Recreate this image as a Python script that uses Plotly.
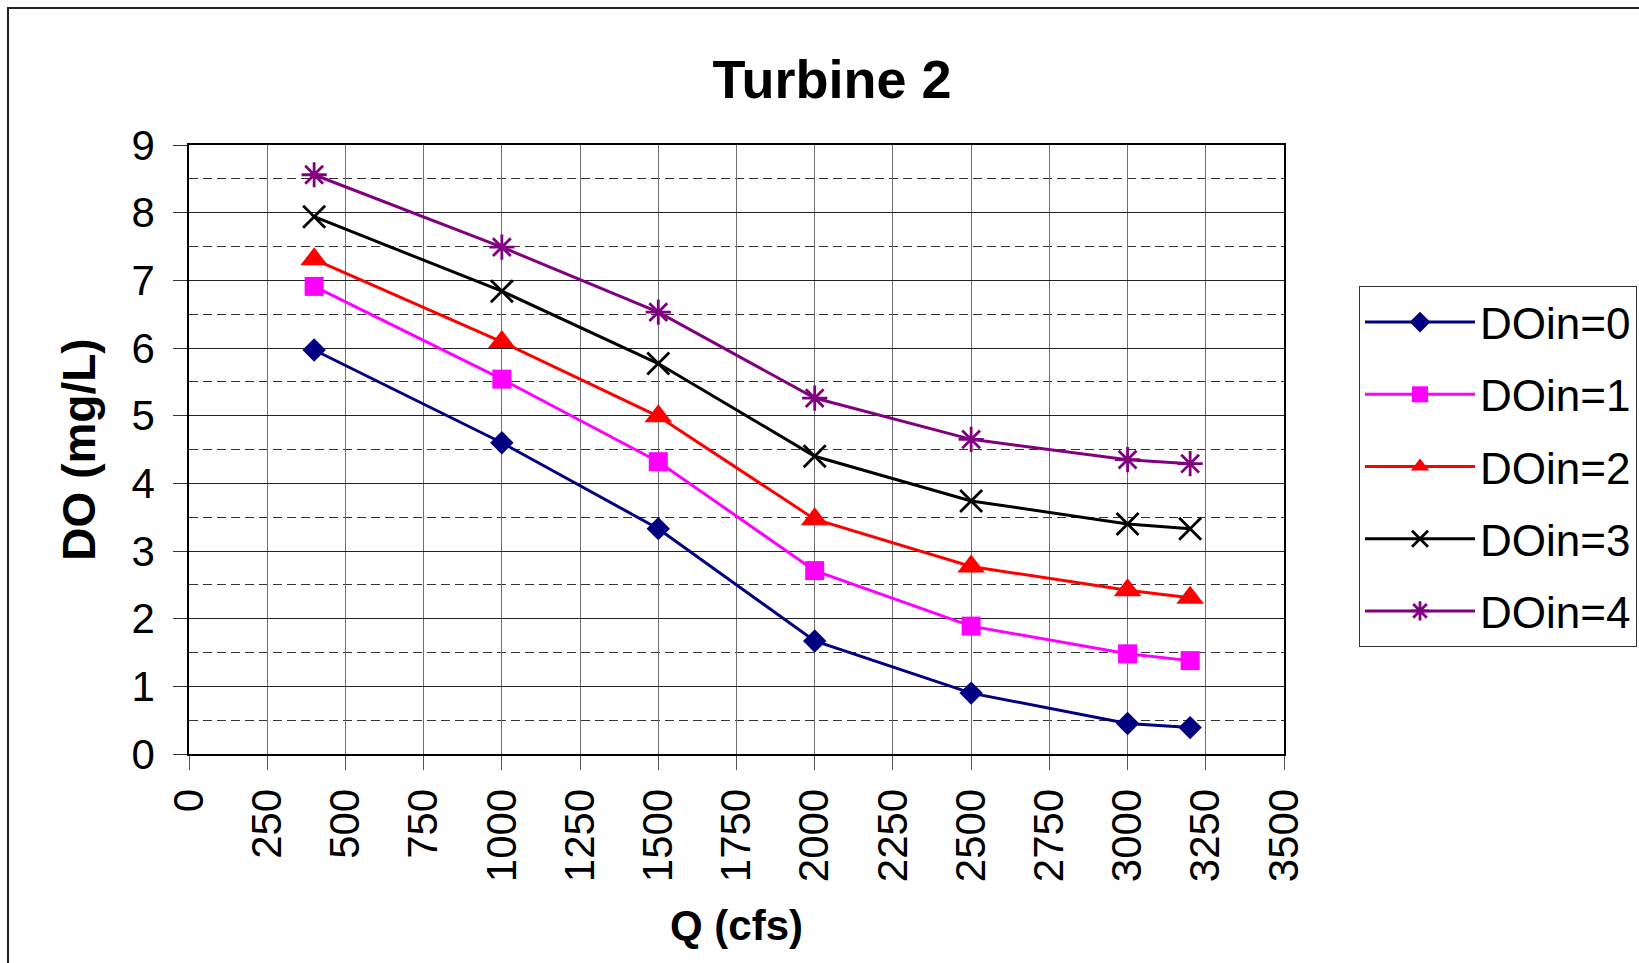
import plotly.graph_objects as go

# Flow through turbine 2 (cfs) and the resulting dissolved oxygen (mg/L)
q_cfs = [400, 1000, 1500, 2000, 2500, 3000, 3200]

do_in_0 = [5.97, 4.60, 3.33, 1.67, 0.90, 0.45, 0.39]
do_in_1 = [6.91, 5.54, 4.32, 2.71, 1.89, 1.48, 1.38]
do_in_2 = [7.31, 6.09, 4.99, 3.47, 2.77, 2.42, 2.31]
do_in_3 = [7.94, 6.84, 5.77, 4.40, 3.74, 3.40, 3.33]
do_in_4 = [8.56, 7.49, 6.53, 5.26, 4.65, 4.35, 4.29]

series_names = ["DOin=0", "DOin=1", "DOin=2", "DOin=3", "DOin=4"]
series_values = [do_in_0, do_in_1, do_in_2, do_in_3, do_in_4]

x_ticks = list(range(0, 3501, 250))
y_ticks = list(range(0, 10))

# Marker / line styling per series
styles = [
    dict(color="#000080", symbol="diamond", size=18, mline=0),
    dict(color="#FF00FF", symbol="square", size=19, mline=0),
    dict(color="#FF0000", symbol="triangle-up", size=24, mline=0),
    dict(color="#000000", symbol="x-thin-open", size=22, mline=2.8),
    dict(color="#800080", symbol="asterisk-open", size=21, mline=2.8),
]

FONT = "Liberation Sans, Arial, Helvetica, sans-serif"

fig = go.Figure()
for i, (name, vals, st) in enumerate(zip(series_names, series_values, styles)):
    fig.add_trace(go.Scatter(
        x=q_cfs, y=vals, name=name, mode="lines+markers",
        legendgroup=f"g{i}",
        line=dict(color=st["color"], width=3),
        marker=dict(symbol=st["symbol"], size=st["size"], color=st["color"],
                    line=dict(color=st["color"], width=st["mline"])),
    ))

# plot area in pixels: x 189..1284, y 145..754
W, H = 1639, 963
L, R, T, B = 189, 355, 145, 209
pw, ph = W - L - R, H - T - B

def px_x(p):
    return (p - L) / pw

def px_y(p):
    return (H - B - p) / ph

fig.update_layout(
    width=W, height=H,
    margin=dict(l=L, r=R, t=T, b=B),
    paper_bgcolor="white", plot_bgcolor="white",
    font=dict(family=FONT, color="black", size=42),
    title=dict(text="<b>Turbine 2</b>", font=dict(family=FONT, size=54, color="black"),
               x=px_x(832), xref="paper", xanchor="center",
               y=1 - 79 / H, yref="container", yanchor="middle"),
    legend=dict(x=1359 / W, y=1 - 286 / H, xref="container", yref="container",
                xanchor="left", yanchor="top",
                bgcolor="white", bordercolor="#333333", borderwidth=1,
                font=dict(family=FONT, size=44, color="black"),
                tracegroupgap=12, itemwidth=110),
    showlegend=True,
    shapes=[
        dict(type="rect", xref="paper", yref="paper",
             x0=px_x(8), x1=px_x(1700), y0=px_y(1000), y1=px_y(8),
             line=dict(color="#222222", width=2), layer="below"),
    ],
)

fig.update_xaxes(
    range=[0, 3500], tickmode="array", tickvals=x_ticks,
    ticktext=[str(v) for v in x_ticks], tickangle=-90,
    ticks="outside", ticklen=14, tickcolor="#555555", tickwidth=1,
    ticklabelstandoff=2,
    showgrid=True, gridcolor="#6e6e6e", gridwidth=1,
    showline=True, linecolor="black", linewidth=2, mirror=True,
    zeroline=False,
    tickfont=dict(family=FONT, size=42, color="black"),
    title=dict(text="<b>Q (cfs)</b>", font=dict(family=FONT, size=42, color="black"),
               standoff=29),
)

fig.update_yaxes(
    range=[0, 9], tickmode="array", tickvals=y_ticks,
    ticktext=[str(v) for v in y_ticks],
    ticks="outside", ticklen=14, tickcolor="#333333", tickwidth=1,
    ticklabelstandoff=10,
    showgrid=True, gridcolor="#222222", gridwidth=1,
    minor=dict(dtick=0.5, showgrid=True, gridcolor="#333333", gridwidth=1,
               griddash="9px,5px", ticks=""),
    showline=True, linecolor="black", linewidth=1.5, mirror=True,
    zeroline=False,
    tickfont=dict(family=FONT, size=42, color="black"),
    title=dict(text="<b>DO (mg/L)</b>", font=dict(family=FONT, size=46, color="black"),
               standoff=21),
)

fig.write_html("out.html")
